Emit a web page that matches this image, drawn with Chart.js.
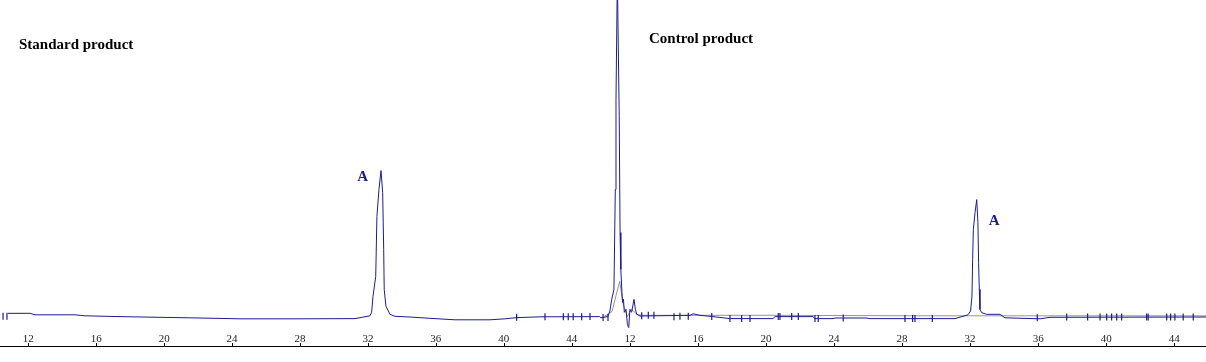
<!DOCTYPE html>
<html>
<head>
<meta charset="utf-8">
<script src="https://cdn.jsdelivr.net/npm/chart.js@4.4.1/dist/chart.umd.min.js"></script>
<style>
  html, body { margin: 0; padding: 0; background: #fff; }
  #wrap { position: relative; width: 1206px; height: 362px; overflow: hidden; }
  canvas { position: absolute; top: 0; }
  #stdChart { left: 0; }
  #ctlChart { left: 600px; }
</style>
</head>
<body>
<div id="wrap">
  <canvas id="stdChart" width="600" height="362"></canvas>
  <canvas id="ctlChart" width="606" height="362"></canvas>
</div>
<script>
'use strict';

// retention time (min) tick labels, same on both traces
var timeTicks = [12, 16, 20, 24, 28, 32, 36, 40, 44];

// Standard product trace
var stdTime = [10.80, 12.10, 12.39, 14.75, 15.34, 17.40, 19.75, 22.11, 24.46, 28.00, 31.24, 31.65,
  32.12, 32.22, 32.30, 32.46, 32.53, 32.65, 32.77, 32.87, 32.93, 32.96, 33.06, 33.30, 33.59,
  34.48, 35.65, 37.13, 39.19, 40.07, 40.78, 42.13, 45.66];
var stdSignal = [3, 3, 1.5, 1.5, 0.5, -0.3, -1, -1.7, -2.5, -2.5, -2.3, -1,
  0.5, 4, 20, 40, 100, 127, 146, 124, 67, 27, 10.3, 2, 0,
  -0.7, -2, -3.5, -3.5, -2.5, -1.3, -0.5, -0.3];
// integration event marks
var stdMarkTime = [10.51, 10.74, 40.76, 42.43, 43.51, 43.80, 44.09, 44.59, 45.08];
var stdMarkSignal = [0, 0, -1, -0.5, -0.5, -0.5, -0.4, -0.4, -0.3];

// Control product trace
var ctlTime = [10.24, 10.42, 10.71, 10.82, 10.93, 11.06, 11.14, 11.18, 11.26, 11.37, 11.42, 11.46,
  11.47, 11.53, 11.57, 11.62, 11.67, 11.77, 11.85, 11.93, 12.00, 12.10, 12.24, 12.32, 12.40,
  12.59, 15.53, 15.71, 16.12, 16.88, 17.88, 20.41, 20.53, 22.76, 22.88, 23.94, 24.06, 25.88,
  26.11, 31.11, 31.58, 31.87, 32.03, 32.11, 32.15, 32.19, 32.29, 32.39, 32.46, 32.50, 32.54,
  32.58, 32.68, 32.97, 33.76, 34.05, 36.11, 36.70, 45.87];
var ctlSignal = [-1.3, -1.3, 0, 5.3, 17, 27, 127, 217, 340, 200, 84, 57,
  47, 24, 14, 17, 4, 7, -8, -11.3, 7, 4, 17, 7, 2,
  0.3, 1, 2.5, 1, -0.3, -2.3, -2.3, -0.3, -0.3, -2.3, -2.3, -1.7, -1.7,
  -2.3, -2.3, 0, 1.5, 5.3, 20.3, 57, 87, 104, 117, 94, 54, 27,
  7, 3.7, 2, 2, -1.5, -2.5, -1, -0.7];
// smoothed (grey) trace around the solvent front
var ctlFitTime = [10.42, 10.95, 11.20, 11.40, 11.60, 11.85, 12.10, 12.40, 12.70, 20.0, 30.0, 36.0, 45.87];
var ctlFitSignal = [-1, 5, 22, 35, 12, 0, 7, 2, 1, 1, 0.5, 0.5, 0.5];
var ctlMarkTime = [10.42, 10.71, 12.69, 13.08, 13.41, 14.59, 14.94, 15.43, 16.81, 17.88, 18.57,
  19.06, 20.72, 20.82, 21.51, 21.90, 22.88, 23.07, 24.54, 28.17, 28.62, 28.76, 29.78, 35.95,
  37.68, 38.91, 39.64, 40.03, 40.32, 40.62, 40.91, 42.38, 42.47, 43.56, 43.79, 44.04, 44.53, 45.12];
var ctlMarkSignal = [-1.3, -1.3, 0.5, 1, 1, -0.5, 0, 0, -0.3, -2.3, -2.3,
  -2.3, -0.3, -0.3, -0.3, -0.3, -2.3, -2.3, -1.7, -2.3, -2.3, -2.3, -2.3, -1.5,
  -0.8, -0.8, -0.8, -0.8, -0.8, -0.8, -0.8, -0.8, -0.8, -0.8, -0.8, -0.8, -0.8, -0.8];

var traceColor = '#1c1c8c';
var axisLineY = 346;

function toPoints(xs, ys) {
  return xs.map(function (x, i) { return { x: x, y: ys[i] }; });
}

// axis line drawn under the tick labels, plus title and peak label
var chromPlugin = {
  id: 'chrom',
  afterDraw: function (chart, args, opts) {
    var ctx = chart.ctx;
    var xs = chart.scales.x;
    ctx.save();
    ctx.strokeStyle = '#000';
    ctx.lineWidth = 1;
    ctx.beginPath();
    ctx.moveTo(0, axisLineY + 0.5);
    ctx.lineTo(chart.width, axisLineY + 0.5);
    timeTicks.forEach(function (t) {
      var px = Math.round(xs.getPixelForValue(t)) + 0.5;
      ctx.moveTo(px, axisLineY - 3);
      ctx.lineTo(px, axisLineY);
    });
    ctx.stroke();

    ctx.fillStyle = '#000';
    ctx.font = 'bold 15px "Liberation Serif"';
    ctx.textAlign = 'left';
    ctx.textBaseline = 'alphabetic';
    ctx.fillText(opts.title, opts.titleX, opts.titleY);

    var pk = chart.getDatasetMeta(0).data[opts.peakIndex];
    ctx.fillStyle = traceColor;
    ctx.textAlign = opts.peakAlign;
    ctx.fillText('A', pk.x + opts.peakDx, pk.y + opts.peakDy);
    ctx.restore();
  }
};

function makeChart(id, time, signal, markTime, markSignal, fit, range, pluginOpts) {
  var datasets = [{
    data: toPoints(time, signal),
    borderColor: traceColor,
    borderWidth: 1,
    pointRadius: 0,
    tension: 0,
    clip: false
  }, {
    data: toPoints(markTime, markSignal),
    showLine: false,
    pointStyle: 'line',
    rotation: 90,
    pointRadius: 3.5,
    borderColor: traceColor,
    borderWidth: 1.2,
    clip: false
  }];
  if (fit) {
    datasets.push({
      data: toPoints(fit[0], fit[1]),
      borderColor: 'rgba(120,120,140,0.8)',
      borderWidth: 1,
      pointRadius: 0,
      tension: 0,
      clip: false
    });
  }
  var ctx = document.getElementById(id).getContext('2d');
  return new Chart(ctx, {
    type: 'line',
    data: { datasets: datasets },
    options: {
      responsive: false,
      animation: false,
      devicePixelRatio: 1,
      layout: { autoPadding: false, padding: { left: 0, right: 0, top: 0, bottom: 16 } },
      plugins: {
        legend: { display: false },
        tooltip: { enabled: false },
        chrom: pluginOpts
      },
      scales: {
        x: {
          type: 'linear',
          min: range[0],
          max: range[1],
          afterBuildTicks: function (scale) {
            scale.ticks = timeTicks.map(function (v) { return { value: v }; });
          },
          grid: { display: false },
          border: { display: false },
          ticks: {
            padding: 0,
            color: '#222',
            font: { family: 'Liberation Serif', size: 11 },
            maxRotation: 0
          }
        },
        y: {
          display: false,
          min: -8.5,
          max: 317
        }
      }
    },
    plugins: [chromPlugin]
  });
}

makeChart('stdChart', stdTime, stdSignal, stdMarkTime, stdMarkSignal, null, [10.33, 45.67], {
  title: 'Standard product', titleX: 19, titleY: 49,
  peakIndex: 18, peakAlign: 'right', peakDx: -13, peakDy: 10
});

makeChart('ctlChart', ctlTime, ctlSignal, ctlMarkTime, ctlMarkSignal, [ctlFitTime, ctlFitSignal], [10.24, 45.87], {
  title: 'Control product', titleX: 49, titleY: 43,
  peakIndex: 47, peakAlign: 'left', peakDx: 12, peakDy: 25
});
</script>
</body>
</html>
